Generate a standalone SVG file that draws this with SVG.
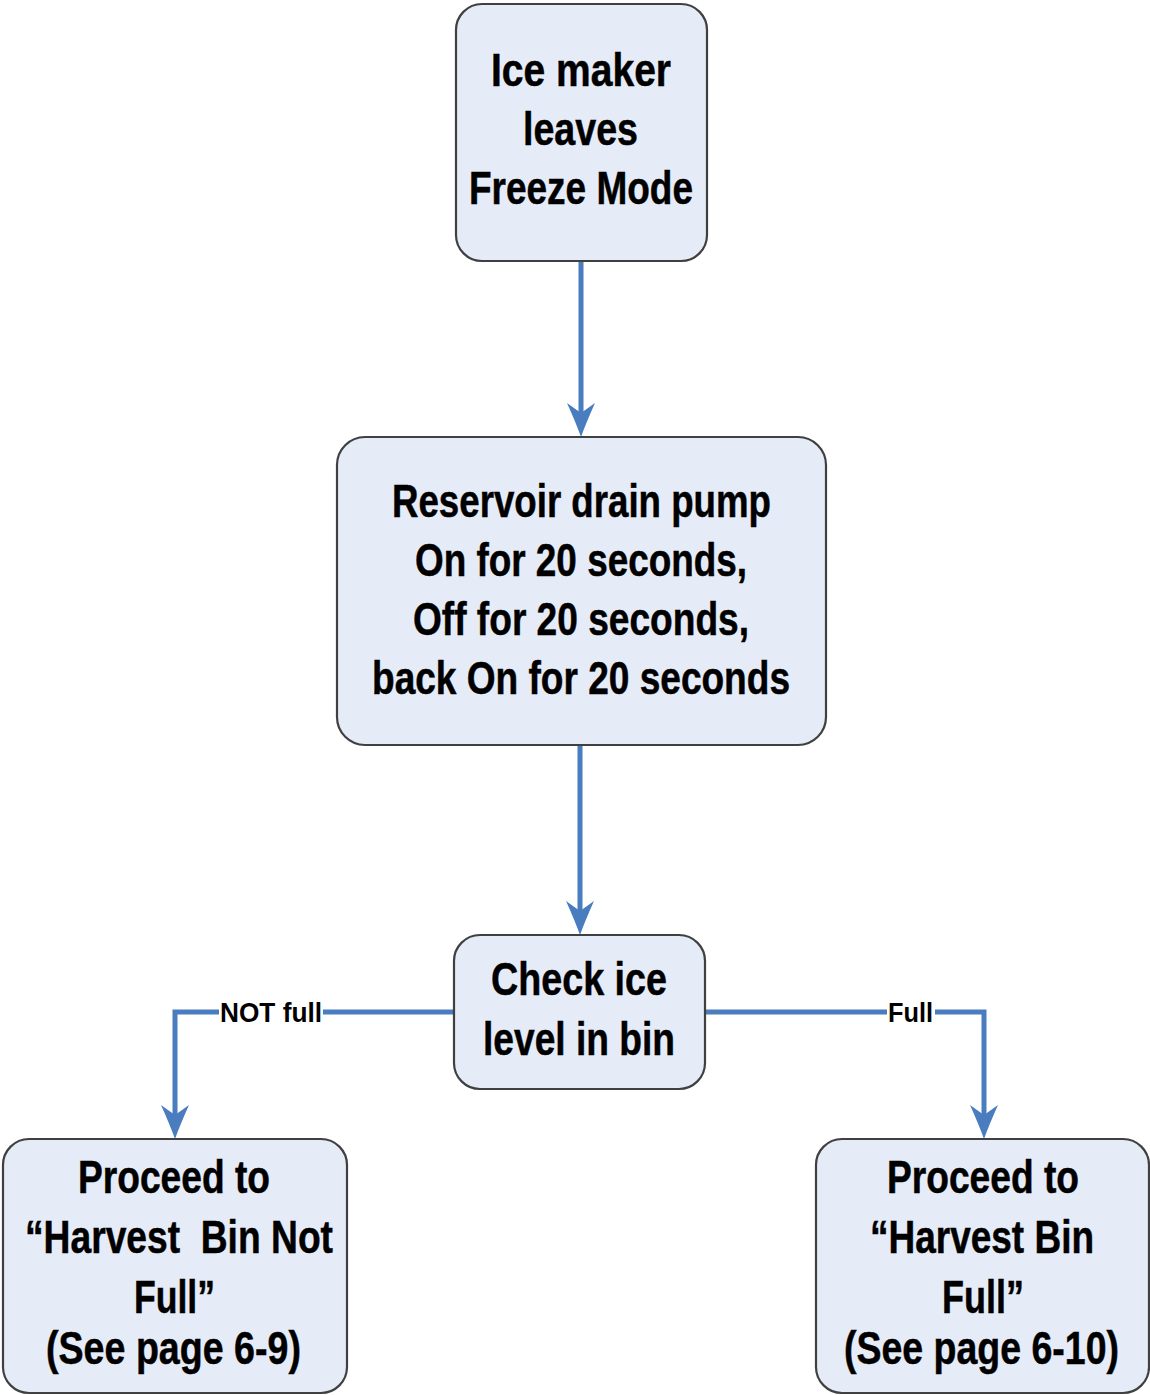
<svg xmlns="http://www.w3.org/2000/svg" xmlns:xlink="http://www.w3.org/1999/xlink" width="1150" height="1395" viewBox="0 0 1150 1395">
<style>
.box{fill:#e6ecf7;stroke:#404040;stroke-width:2.2}
.t{font-family:"Liberation Sans",Arial,sans-serif;font-weight:bold;font-size:46px;fill:#000;stroke:#000;stroke-width:0.5;text-anchor:middle}
.lbl{font-family:"Liberation Sans",Arial,sans-serif;font-weight:bold;font-size:28px;fill:#000;text-anchor:middle}
.conn{fill:none;stroke:#4a7cc0;stroke-width:5}
.ah{fill:#4a7cc0}
</style>
<defs>
<path id="ah" d="M0,0 Q-5,-14 -14,-34 L0,-24 L14,-34 Q5,-14 0,0 Z"/>
</defs>
<rect width="1150" height="1395" fill="#fff"/>
<g id="connectors">
<path class="conn" d="M581,261 V413"/>
<use href="#ah" class="ah" x="581" y="437"/>
<path class="conn" d="M580,745 V911"/>
<use href="#ah" class="ah" x="580" y="935"/>
<path class="conn" d="M454,1012 H175 V1115"/>
<use href="#ah" class="ah" x="175" y="1139"/>
<path class="conn" d="M705,1012 H984 V1115"/>
<use href="#ah" class="ah" x="984" y="1139"/>
<rect x="219" y="998" width="104" height="28" fill="#fff"/>
<text class="lbl" x="271" y="1022" textLength="102" lengthAdjust="spacingAndGlyphs">NOT full</text>
<rect x="887" y="998" width="48" height="28" fill="#fff"/>
<text class="lbl" x="910.5" y="1022" textLength="45" lengthAdjust="spacingAndGlyphs">Full</text>
</g>
<g id="n1">
<rect class="box" x="456" y="4" width="251" height="257" rx="26"/>
<text class="t" x="581" y="86" textLength="180" lengthAdjust="spacingAndGlyphs">Ice maker</text>
<text class="t" x="580.5" y="145" textLength="115" lengthAdjust="spacingAndGlyphs">leaves</text>
<text class="t" x="581" y="204" textLength="224" lengthAdjust="spacingAndGlyphs">Freeze Mode</text>
</g>
<g id="n2">
<rect class="box" x="337" y="437" width="489" height="308" rx="28"/>
<text class="t" x="581.5" y="517" textLength="379" lengthAdjust="spacingAndGlyphs">Reservoir drain pump</text>
<text class="t" x="581" y="576" textLength="332" lengthAdjust="spacingAndGlyphs">On for 20 seconds,</text>
<text class="t" x="581" y="635" textLength="336" lengthAdjust="spacingAndGlyphs">Off for 20 seconds,</text>
<text class="t" x="581" y="694" textLength="418" lengthAdjust="spacingAndGlyphs">back On for 20 seconds</text>
</g>
<g id="n3">
<rect class="box" x="454" y="935" width="251" height="154" rx="26"/>
<text class="t" x="579" y="995" textLength="176" lengthAdjust="spacingAndGlyphs">Check ice</text>
<text class="t" x="579" y="1055" textLength="192" lengthAdjust="spacingAndGlyphs">level in bin</text>
</g>
<g id="n4">
<rect class="box" x="3" y="1139" width="344" height="254" rx="26"/>
<text class="t" x="174" y="1193" textLength="192" lengthAdjust="spacingAndGlyphs">Proceed to</text>
<text class="t" x="179" y="1253" textLength="308" lengthAdjust="spacingAndGlyphs" xml:space="preserve">“Harvest  Bin Not</text>
<text class="t" x="174.5" y="1313" textLength="81" lengthAdjust="spacingAndGlyphs">Full”</text>
<text class="t" x="173.5" y="1364" textLength="255" lengthAdjust="spacingAndGlyphs">(See page 6-9)</text>
</g>
<g id="n5">
<rect class="box" x="816" y="1139" width="333" height="254" rx="26"/>
<text class="t" x="983" y="1193" textLength="192" lengthAdjust="spacingAndGlyphs">Proceed to</text>
<text class="t" x="982" y="1253" textLength="224" lengthAdjust="spacingAndGlyphs">“Harvest Bin</text>
<text class="t" x="983" y="1313" textLength="82" lengthAdjust="spacingAndGlyphs">Full”</text>
<text class="t" x="981.5" y="1364" textLength="275" lengthAdjust="spacingAndGlyphs">(See page 6-10)</text>
</g>
</svg>
